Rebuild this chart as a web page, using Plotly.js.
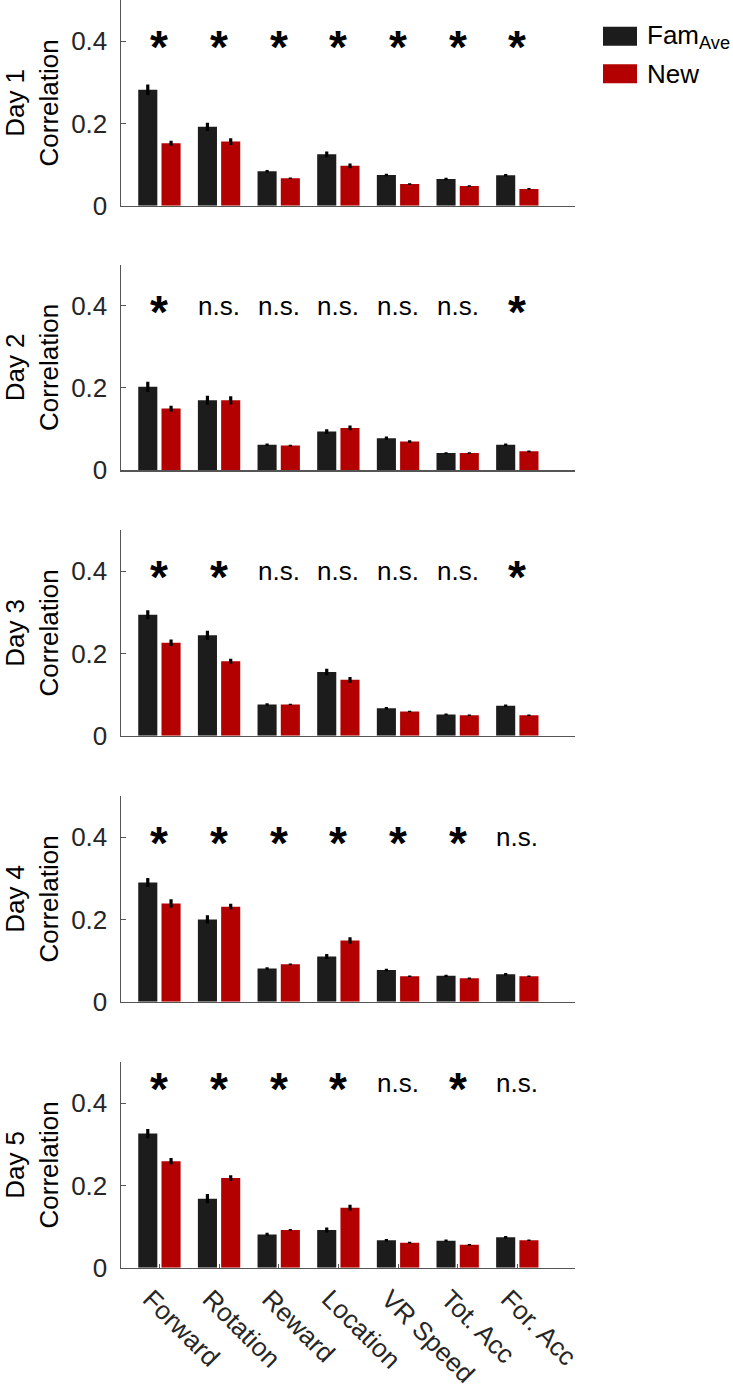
<!DOCTYPE html>
<html>
<head>
<meta charset="utf-8">
<script src="https://cdn.plot.ly/plotly-3.0.1.min.js"></script>
<style>
  html, body { margin: 0; padding: 0; background: #ffffff; }
  #chart { width: 733px; height: 1390px; }
</style>
</head>
<body>
<div id="chart"></div>
<script>
// ---------------- DATA ----------------
const categories = ['Forward', 'Rotation', 'Reward', 'Location', 'VR Speed', 'Tot. Acc', 'For. Acc'];
const dayLabels = ['Day 1', 'Day 2', 'Day 3', 'Day 4', 'Day 5'];
const seriesNames = ['Fam<sub>Ave</sub>', 'New'];

const famDay1 = [0.282, 0.192, 0.084, 0.125, 0.075, 0.065, 0.074];
const newDay1 = [0.152, 0.156, 0.067, 0.097, 0.053, 0.048, 0.041];
const famErrDay1 = [0.013, 0.010, 0.003, 0.007, 0.003, 0.003, 0.003];
const newErrDay1 = [0.006, 0.008, 0.002, 0.006, 0.002, 0.002, 0.002];

const famDay2 = [0.203, 0.170, 0.062, 0.094, 0.078, 0.042, 0.062];
const newDay2 = [0.150, 0.170, 0.060, 0.103, 0.070, 0.042, 0.046];
const famErrDay2 = [0.012, 0.011, 0.003, 0.006, 0.004, 0.002, 0.003];
const newErrDay2 = [0.007, 0.010, 0.002, 0.006, 0.003, 0.002, 0.002];

const famDay3 = [0.294, 0.244, 0.076, 0.155, 0.067, 0.052, 0.073];
const newDay3 = [0.226, 0.181, 0.076, 0.136, 0.059, 0.050, 0.050];
const famErrDay3 = [0.011, 0.011, 0.003, 0.008, 0.003, 0.002, 0.003];
const newErrDay3 = [0.008, 0.006, 0.002, 0.007, 0.002, 0.002, 0.002];

const famDay4 = [0.290, 0.200, 0.081, 0.110, 0.077, 0.063, 0.067];
const newDay4 = [0.239, 0.231, 0.091, 0.149, 0.062, 0.057, 0.062];
const famErrDay4 = [0.011, 0.010, 0.003, 0.006, 0.003, 0.003, 0.003];
const newErrDay4 = [0.010, 0.007, 0.002, 0.008, 0.002, 0.002, 0.002];

const famDay5 = [0.326, 0.168, 0.081, 0.092, 0.067, 0.066, 0.074];
const newDay5 = [0.259, 0.218, 0.092, 0.146, 0.061, 0.056, 0.067];
const famErrDay5 = [0.011, 0.011, 0.004, 0.006, 0.003, 0.003, 0.003];
const newErrDay5 = [0.008, 0.007, 0.002, 0.007, 0.002, 0.002, 0.002];

const sigDay1 = ['*', '*', '*', '*', '*', '*', '*'];
const sigDay2 = ['*', 'n.s.', 'n.s.', 'n.s.', 'n.s.', 'n.s.', '*'];
const sigDay3 = ['*', '*', 'n.s.', 'n.s.', 'n.s.', 'n.s.', '*'];
const sigDay4 = ['*', '*', '*', '*', '*', '*', 'n.s.'];
const sigDay5 = ['*', '*', '*', '*', 'n.s.', '*', 'n.s.'];
const sigLevel = [0.4, 0.4, 0.4, 0.4, 0.45];

const yTickVals = [0, 0.2, 0.4];
const yTickText = ['0', '0.2', '0.4'];

// ---------------- BUILD ----------------
const famAll = [famDay1, famDay2, famDay3, famDay4, famDay5];
const newAll = [newDay1, newDay2, newDay3, newDay4, newDay5];
const famErrAll = [famErrDay1, famErrDay2, famErrDay3, famErrDay4, famErrDay5];
const newErrAll = [newErrDay1, newErrDay2, newErrDay3, newErrDay4, newErrDay5];
const sigAll = [sigDay1, sigDay2, sigDay3, sigDay4, sigDay5];

const FONT = 'Liberation Sans, Arial, Helvetica, sans-serif';
const W = 733, H = 1390;
const M = { l: 121, r: 158, t: 0, b: 122 };
const PW = W - M.l - M.r, PH = H - M.t - M.b;
const panelTops = [0, 264.5, 530, 796, 1062];
const panelH = 205.8;
const fx = px => (px - M.l) / PW;
const fy = py => 1 - (py - M.t) / PH;

const xpos = categories.map((c, i) => i + 1);
const COL_FAM = '#1c1c1c';
const COL_NEW = '#b30000';

const data = [];
const layout = {
  width: W, height: H,
  margin: M,
  paper_bgcolor: '#ffffff',
  plot_bgcolor: 'rgba(0,0,0,0)',
  showlegend: false,
  barmode: 'group',
  font: { family: FONT, size: 26, color: '#000000' },
  annotations: [],
  shapes: []
};

for (let d = 0; d < 5; d++) {
  const sfx = d === 0 ? '' : String(d + 1);
  const xa = 'x' + sfx, ya = 'y' + sfx;
  data.push({
    type: 'bar', name: seriesNames[0], x: xpos, y: famAll[d],
    xaxis: xa, yaxis: ya, width: 0.32, offset: -0.355,
    marker: { color: COL_FAM, line: { width: 0 } },
    error_y: { type: 'data', array: famErrAll[d], visible: true, color: '#000000', thickness: 3.2, width: 0 },
    showlegend: d === 0, hoverinfo: 'x+y'
  });
  data.push({
    type: 'bar', name: seriesNames[1], x: xpos, y: newAll[d],
    xaxis: xa, yaxis: ya, width: 0.32, offset: 0.035,
    marker: { color: COL_NEW, line: { width: 0 } },
    error_y: { type: 'data', array: newErrAll[d], visible: true, color: '#000000', thickness: 3.2, width: 0 },
    showlegend: d === 0, hoverinfo: 'x+y'
  });

  const top = panelTops[d];
  const dom = [Math.max(0, fy(top + panelH)), Math.min(1, fy(top))];
  const isLast = d === 4;
  layout['xaxis' + sfx] = {
    domain: [0, 1], anchor: ya, range: [0.356, 7.967],
    showline: true, linecolor: '#555555', linewidth: 1.5,
    showgrid: false, zeroline: false,
    tickmode: 'array', tickvals: xpos, ticktext: categories,
    ticks: isLast ? 'inside' : '', ticklen: 4, tickcolor: '#555555', tickwidth: 1,
    showticklabels: isLast, tickangle: 45, ticklabelshift: -9, ticklabelstandoff: 4,
    tickfont: { family: FONT, size: 26, color: '#262626' },
    fixedrange: true
  };
  layout['yaxis' + sfx] = {
    domain: dom, anchor: xa, range: [0, 0.5],
    showline: true, linecolor: '#555555', linewidth: 1.5,
    showgrid: false, zeroline: false,
    tickmode: 'array', tickvals: yTickVals, ticktext: yTickText,
    ticks: 'inside', ticklen: 5, tickcolor: '#555555', tickwidth: 1,
    tickfont: { family: FONT, size: 26, color: '#262626' },
    ticklabelstandoff: 7,
    title: { text: dayLabels[d] + '<br>Correlation', font: { family: FONT, size: 26, color: '#000000' }, standoff: 8 },
    fixedrange: true
  };

  sigAll[d].forEach((s, i) => {
    const star = s === '*';
    layout.annotations.push({
      xref: xa, yref: ya, x: xpos[i], y: sigLevel[d],
      text: star ? '<b>*</b>' : s, showarrow: false, xanchor: 'center', yanchor: 'middle',
      yshift: star ? -6 : 0,
      font: { family: FONT, size: star ? 46 : 26, color: '#000000' }
    });
  });
}

// Custom legend (paper coordinates outside the plot area)
const legendItems = [
  { name: seriesNames[0], color: COL_FAM, y0: 26.7, y1: 45.7 },
  { name: seriesNames[1], color: COL_NEW, y0: 64.3, y1: 83.3 }
];
legendItems.forEach(it => {
  layout.shapes.push({
    type: 'rect', xref: 'paper', yref: 'paper',
    x0: fx(603), x1: fx(637), y0: fy(it.y1), y1: fy(it.y0),
    fillcolor: it.color, line: { width: 0 }
  });
  layout.annotations.push({
    xref: 'paper', yref: 'paper', x: fx(645), y: fy((it.y0 + it.y1) / 2),
    text: it.name, showarrow: false, xanchor: 'left', yanchor: 'middle',
    font: { family: FONT, size: 26, color: '#000000' }
  });
});

Plotly.newPlot('chart', data, layout, { displayModeBar: false, staticPlot: true });
</script>
</body>
</html>
